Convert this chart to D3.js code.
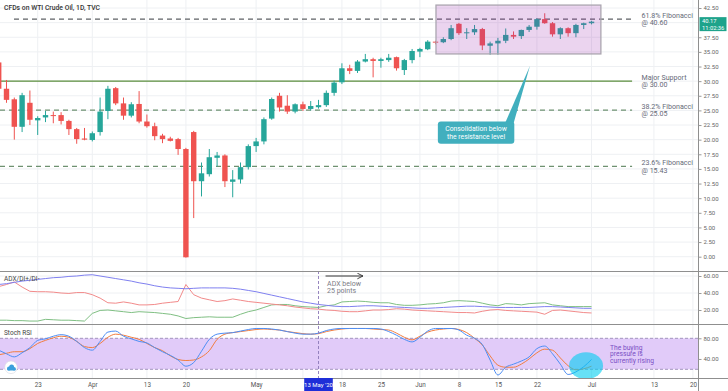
<!DOCTYPE html>
<html><head><meta charset="utf-8">
<script src="https://cdn.jsdelivr.net/npm/d3@7"></script>
<style>body{margin:0;background:#fff;} svg{display:block;font-family:Roboto,"Noto Sans",sans-serif;}</style>
</head><body><svg id="c" width="728" height="391"></svg>
<script>
// ---------------- DATA ----------------
const dates = ["Mar 16","Mar 17","Mar 18","Mar 19","Mar 20","Mar 23","Mar 24","Mar 25","Mar 26","Mar 27",
 "Mar 30","Mar 31","Apr 1","Apr 2","Apr 3","Apr 6","Apr 7","Apr 8","Apr 9",
 "Apr 13","Apr 14","Apr 15","Apr 16","Apr 17","Apr 20","Apr 21","Apr 22","Apr 23","Apr 24",
 "Apr 27","Apr 28","Apr 29","Apr 30","May 1","May 4","May 5","May 6","May 7","May 8",
 "May 11","May 12","May 13","May 14","May 15","May 18","May 19","May 20","May 21","May 22",
 "May 25","May 26","May 27","May 28","May 29","Jun 1","Jun 2","Jun 3","Jun 4","Jun 5",
 "Jun 8","Jun 9","Jun 10","Jun 11","Jun 12","Jun 15","Jun 16","Jun 17","Jun 18","Jun 19",
 "Jun 22","Jun 23","Jun 24","Jun 25","Jun 26","Jun 29","Jun 30","Jul 1"];
const open = [33.2,28.7,26.9,22.2,26.3, 23.3,23.8,24.2,24.2,23.2, 21.8,20.2,19.95,21.3,24.9, 28.8,26.2,24.1,26.1,
 23.1,22.3,20.7,20.2,20.1, 18.4,21.3,12.9,14.1,16.9, 17.3,12.8,13.2,15.3,18.9, 19.7,23.6,27.5,25.8,24.8,
 26.05,25.25,25.55,25.9,28.0, 29.8,32.2,31.75,33.35,33.75, 33.45,33.6,34.1,31.9,33.6, 35.05,35.45,36.75,36.65,37.2,
 39.8,38.2,38.35,38.9,36.05, 36.45,36.9,37.9,37.7,38.75, 39.3,40.6,39.9,38.0,39.05, 38.2,39.6,39.9];
const high = [33.6,30.2,27.2,28.0,28.4, 24.0,24.9,24.8,24.7,23.4, 22.0,22.0,21.4,27.2,29.2, 29.0,27.2,26.4,28.3,
 24.3,22.9,21.0,20.5,20.3, 18.6,21.5,16.1,18.4,17.9, 17.5,14.8,16.1,19.2,20.3, 23.8,27.2,28.0,27.6,26.2,
 26.5,26.6,26.8,28.4,30.1, 33.05,32.8,33.6,34.65,34.0, 34.0,34.65,34.2,33.8,35.5, 35.7,37.0,36.9,37.5,39.6,
 39.95,39.05,39.6,39.1,36.75, 37.4,39.0,38.5,38.8,39.6, 40.75,41.6,40.1,39.2,39.2, 39.8,40.0,40.3];
const low = [28.3,26.3,20.0,21.3,22.5, 20.8,23.0,22.8,22.6,20.8, 19.3,19.9,19.7,20.7,23.5, 25.9,23.4,23.8,22.8,
 22.05,19.9,19.4,19.7,17.4, -0.15,6.6,10.3,13.7,15.4, 11.9,10.15,12.5,14.9,17.9, 19.2,23.4,24.8,24.4,24.5,
 24.9,25.0,25.3,25.6,27.5, 29.5,31.2,31.4,33.2,30.65, 32.3,33.3,31.8,31.05,33.05, 34.1,35.3,36.3,36.5,37.0,
 37.9,37.2,37.9,35.3,34.5, 34.5,36.5,37.2,37.2,38.4, 38.8,39.8,37.6,37.2,37.6, 37.5,38.9,39.7];
const close = [28.7,26.8,22.2,27.6,23.4, 23.7,24.2,24.1,23.2,21.8, 20.1,20.0,21.1,24.8,28.7, 26.2,24.1,26.05,23.1,
 22.3,20.6,20.1,19.8,18.4, -0.1,12.9,14.25,17.0,17.3, 12.9,13.2,15.3,18.9,19.7, 23.5,26.95,25.5,24.8,26.05,
 25.25,25.75,25.9,28.0,29.75, 32.2,31.75,33.35,33.75,33.45, 33.75,34.0,32.2,33.6,35.15, 35.5,36.75,36.6,37.2,39.05,
 38.2,38.35,38.9,36.1,36.45, 36.9,37.9,37.6,38.75,39.3, 40.6,39.9,38.0,39.05,38.2, 39.6,39.9,40.17];

const adx = [50,51,52.5,54,55, 56,57,58,58.5,59.5, 60,61,61.5,60,58.5, 57,55.5,54,52,
 50.5,48.5,47,46,45.5, 45,45.5,46,46,46, 46,45.5,44.5,43,41.5, 39.5,37.5,35.5,33.5,31.5,
 29.5,28,26.5,25.5,24.5, 24,24,24.5,25,25, 24.5,24,23.5,23,22.5, 22,22,22.5,23,23.5,
 24,24.5,24.5,24,23.5, 23,23,23,23,23, 23.5,24,24,23.5,23, 22.5,22,22];
const diPlus = [8,8,7.5,7.5,7, 7,9,8.5,8,8, 7.5,7,16,19.5,20, 19,18,17,18,
 17.5,17,16,15,13, 10,11,11.5,12,11.5, 11.5,11.5,15,18,20, 23,26,26.5,26.5,25,
 24,23.5,23,25,26, 29.5,30,30.5,30,29, 28.5,28.5,26.5,25.5,25.5, 26,27,27.5,28.5,30.5,
 31,30.5,30,28,26, 25,27.5,27,26,27.5, 28,28.5,26,25,24, 24,24,24];
const diMinus = [47.5,50,53,47,42, 41.5,41.5,41,40,39.5, 40.5,40.5,38,34,28.5, 28,29.5,28,26,
 26,26.5,28,29,30, 50,38,34,32,30, 31,33,31.5,30,29, 28,27,26,25,23.5,
 22.5,21.5,21,20,19.5, 18.5,18,18,19,20, 20,20.5,21.5,21,20, 19.5,19,18.5,18,17.5,
 17,17,16.5,18.5,20, 20.5,19.5,19,18.5,18, 17.5,15,19.5,20,19, 18,17,16.5];
const stochK = [57,50,44,52,62, 76,79,84,87,84, 74,62,57,74,92, 94,84,79,74,
 71,62,54,47,38, 26,33,55,78,88, 90,91,94,97,99, 99,98,96,93,90,
 88,88,90,95,98, 99,99,99,99,99, 98,93,86,78,73, 82,94,99,99,99,
 96,86,80,68,38, 9,24,30,36,44, 60,65,50,30,10, 15,25,39];
const stochD = [48,51,54,54,60, 70,76,81,84,82, 74,64,62,70,82, 88,86,82,78,
 70,62,56,46,39, 37,38,44,56,78, 88,91,93,95,97, 98,97,96,93,91,
 89,88,89,93,96, 98,99,99,99,98, 97,96,90,82,77, 84,92,96,98,99,
 97,91,80,67,46, 28,24,24,30,40, 52,59,57,42,27, 19,21,26];

const priceTicks = [0,2.5,5,7.5,10,12.5,15,17.5,20,22.5,25,27.5,30,32.5,35,37.5,40,42.5];
const priceLabelTicks = [0,2.5,5,7.5,10,12.5,15,17.5,20,22.5,25,27.5,30,32.5,35,37.5,42.5];
const adxTicks = [20,40,60];
const stochTicks = [40,80];
const dateTickLabels = ["23","Apr","13","20","May","18","25","Jun","8","15","22","Jul","13","20"];
const dateTickIndex  = [5,12,19,24,33,44,49,54,59,64,69,76,84,89];
const gridDateIndex  = [0,5,12,19,24,33,39,44,49,54,59,64,69,76,84,89];

const levelNames  = ["61.8% Fibonacci","Major Support","38.2% Fibonacci","23.6% Fibonacci"];
const levelValues = [40.60,30.00,25.05,15.43];

// ---------------- LAYOUT ----------------
const W=728,H=391, plotR=698;
const mainTop=0, mainBot=271, adxTop=271, adxBot=324, stTop=324, stBot=378;
const svg=d3.select("#c");
svg.append("rect").attr("width",W).attr("height",H).attr("fill","#fff");

const x=d3.scaleLinear().domain([0.167,89.65]).range([0,plotR]);
const y=d3.scaleLinear().domain([0,42.5]).range([256.7,8]);
const yA=d3.scaleLinear().domain([20,60]).range([310,276]);
const yS=d3.scaleLinear().domain([20,80]).range([369.3,338.3]);
const idx=d3.range(dates.length);

const defs=svg.append("defs");
[["cm",mainTop,mainBot],["ca",adxTop,adxBot],["cs",stTop,stBot]].forEach(([id,t,b])=>{
  defs.append("clipPath").attr("id",id).append("rect").attr("x",0).attr("y",t).attr("width",plotR).attr("height",b-t);
});
defs.append("marker").attr("id","arr").attr("viewBox","0 0 10 10").attr("refX",9).attr("refY",5)
  .attr("markerWidth",7).attr("markerHeight",7).attr("orient","auto")
  .append("path").attr("d","M1,1 L9,5 L1,9").attr("fill","none").attr("stroke","#333").attr("stroke-width",1.3);

// grids
const grid=svg.append("g").attr("stroke","#eef0f3").attr("stroke-width",1);
priceTicks.forEach(p=>grid.append("line").attr("x1",0).attr("x2",plotR).attr("y1",y(p)).attr("y2",y(p)));
adxTicks.forEach(v=>grid.append("line").attr("x1",0).attr("x2",plotR).attr("y1",yA(v)).attr("y2",yA(v)));
gridDateIndex.forEach(i=>grid.append("line").attr("x1",x(i)).attr("x2",x(i)).attr("y1",0).attr("y2",stBot));

// ---------------- MAIN PANEL ----------------
const gm=svg.append("g").attr("clip-path","url(#cm)");
const lvlStart=[1.96,0.167,0.167,0.167], lvlEnd=81.2;
const lvlColor=["#5f6266","#5a8c3c","#6e9170","#6e9170"];
const lvlDash=["5,4",null,"5,4","5,4"];
levelValues.forEach((v,k)=>{
  gm.append("line").attr("x1",x(lvlStart[k])).attr("x2",x(lvlEnd)).attr("y1",y(v)).attr("y2",y(v))
    .attr("stroke",lvlColor[k]).attr("stroke-width",1.2).attr("stroke-dasharray",lvlDash[k]);
});
const up="#26a69a", dn="#ef5350", bw=5.4;
const cg=gm.append("g");
idx.forEach(i=>{
  const c= close[i]>=open[i]?up:dn;
  cg.append("line").attr("x1",x(i)).attr("x2",x(i)).attr("y1",y(high[i])).attr("y2",y(low[i])).attr("stroke",c).attr("stroke-width",1);
  const t=y(Math.max(open[i],close[i])), b=y(Math.min(open[i],close[i]));
  cg.append("rect").attr("x",x(i)-bw/2).attr("y",t).attr("width",bw).attr("height",Math.max(1,b-t)).attr("fill",c);
});
const rectI=[56.06,77.2], rectP=[43.0,34.65];
gm.append("rect").attr("x",x(rectI[0])).attr("y",y(rectP[0])).attr("width",x(rectI[1])-x(rectI[0])).attr("height",y(rectP[1])-y(rectP[0]))
  .attr("fill","rgba(156,39,176,0.2)").attr("stroke","#aba6b0").attr("stroke-width",1.3);
const calloutColor="#41afbe";
const boxI=[56.3,66.1], boxP=[23.1,19.3];
gm.append("path").attr("d",`M${x(64.9)},${y(boxP[0])+2} L${x(68.1)},${y(32.6)} L${x(66.0)},${y(boxP[0])+2} Z`).attr("fill",calloutColor);
gm.append("rect").attr("x",x(boxI[0])).attr("y",y(boxP[0])).attr("width",x(boxI[1])-x(boxI[0])).attr("height",y(boxP[1])-y(boxP[0]))
  .attr("rx",3).attr("fill",calloutColor);
const bcx=(x(boxI[0])+x(boxI[1]))/2;
["Consolidation below","the resistance level"].forEach((t,k)=>{
  svg.append("text").attr("x",bcx).attr("y",y(boxP[0])+9.2+k*7.8).attr("text-anchor","middle").attr("fill","#fff")
    .attr("font-size",6.8).text(t);
});
levelValues.forEach((v,k)=>{
  const yy=y(v);
  svg.append("text").attr("x",641.5).attr("y",yy-1.4).attr("fill","#666a78").attr("font-size",7.1).text(levelNames[k]);
  svg.append("text").attr("x",641.5).attr("y",yy+6.3).attr("fill","#666a78").attr("font-size",7.1).text("@ "+v.toFixed(2));
});
svg.append("text").attr("x",4).attr("y",10).attr("fill","#333").attr("font-size",6.8).attr("font-weight",500).text("CFDs on WTI Crude Oil, 1D, TVC");

// ---------------- ADX PANEL ----------------
const ga=svg.append("g").attr("clip-path","url(#ca)");
const la=d=>d3.line().x((v,i)=>x(i)).y(v=>yA(v))(d);
ga.append("path").attr("d",la(diPlus)).attr("fill","none").attr("stroke","#7fbf83").attr("stroke-width",1);
ga.append("path").attr("d",la(diMinus)).attr("fill","none").attr("stroke","#f28a8a").attr("stroke-width",1);
ga.append("path").attr("d",la(adx)).attr("fill","none").attr("stroke","#7f80f0").attr("stroke-width",1);
svg.append("text").attr("x",4).attr("y",281).attr("fill","#444").attr("font-size",6.5).text("ADX/DI+/DI-");

// ---------------- STOCH RSI PANEL ----------------
const gs=svg.append("g").attr("clip-path","url(#cs)");
gs.append("rect").attr("x",0).attr("width",plotR).attr("y",yS(80)).attr("height",yS(20)-yS(80)).attr("fill","#e1cbf9");
[20,80].forEach(v=>gs.append("line").attr("x1",0).attr("x2",plotR).attr("y1",yS(v)).attr("y2",yS(v))
  .attr("stroke","#9a8cb5").attr("stroke-width",0.9).attr("stroke-dasharray","3,2"));
const ls=d=>d3.line().curve(d3.curveMonotoneX).x((v,i)=>x(i)).y(v=>yS(v))(d);
gs.append("path").attr("d",ls(stochD)).attr("fill","none").attr("stroke","#f27d3f").attr("stroke-width",1);
gs.append("path").attr("d",ls(stochK)).attr("fill","none").attr("stroke","#4d8ef5").attr("stroke-width",1);
gs.append("ellipse").attr("cx",x(75.3)).attr("cy",yS(27)).attr("rx",17).attr("ry",13.5).attr("fill","rgba(0,205,240,0.6)");
["The buying","pressure is","currently rising"].forEach((t,k)=>{
  svg.append("text").attr("x",610).attr("y",349.5+k*6.6).attr("fill","#7a4fc4").attr("font-size",6.7).text(t);
});
svg.append("text").attr("x",4).attr("y",335).attr("fill","#444").attr("font-size",6.5).text("Stoch RSI");
svg.append("circle").attr("cx",11).attr("cy",367.3).attr("r",6.3).attr("fill","#fff").attr("stroke","#d8d8e0").attr("stroke-width",0.6);
const lg=svg.append("g").attr("fill","#3a9fdc");
lg.append("circle").attr("cx",9).attr("cy",368.6).attr("r",2);
lg.append("circle").attr("cx",11.6).attr("cy",367).attr("r",2.5);
lg.append("circle").attr("cx",14).attr("cy",368.8).attr("r",1.8);
lg.append("rect").attr("x",7.2).attr("y",368.6).attr("width",8.6).attr("height",2).attr("rx",1);

// ---------------- ANNOTATIONS ----------------
svg.append("line").attr("x1",x(41)).attr("x2",x(41)).attr("y1",adxTop).attr("y2",stBot)
  .attr("stroke","#8b78b8").attr("stroke-width",0.9).attr("stroke-dasharray","3,2");
svg.append("line").attr("x1",x(41.9)).attr("x2",x(46.7)).attr("y1",yA(60)).attr("y2",yA(60))
  .attr("stroke","#333").attr("stroke-width",1).attr("marker-end","url(#arr)");
svg.append("text").attr("x",x(42.1)).attr("y",286.3).attr("fill","#7b7b85").attr("font-size",7).text("ADX below");
svg.append("text").attr("x",x(42.1)).attr("y",293.4).attr("fill","#7b7b85").attr("font-size",7).text("25 points");

// ---------------- AXES ----------------
const sep=svg.append("g").attr("stroke","#8f8f8f").attr("stroke-width",1);
[adxTop,adxBot,stBot].forEach(v=>sep.append("line").attr("x1",0).attr("x2",W).attr("y1",v+0.5).attr("y2",v+0.5));
sep.append("line").attr("x1",plotR+0.5).attr("x2",plotR+0.5).attr("y1",0).attr("y2",H);

const yAxis=svg.append("g").attr("transform",`translate(${plotR+0.5},0)`)
  .call(d3.axisRight(y).tickValues(priceLabelTicks).tickFormat(d3.format(".2f")).tickSize(3).tickPadding(2));
const yAxA=svg.append("g").attr("transform",`translate(${plotR+0.5},0)`)
  .call(d3.axisRight(yA).tickValues(adxTicks).tickFormat(d3.format(".2f")).tickSize(3).tickPadding(2));
const yAxS=svg.append("g").attr("transform",`translate(${plotR+0.5},0)`)
  .call(d3.axisRight(yS).tickValues(stochTicks).tickFormat(d3.format(".2f")).tickSize(3).tickPadding(2));
[yAxis,yAxA,yAxS].forEach(g=>{
  g.select(".domain").remove();
  g.selectAll("line").attr("stroke","#999");
  g.selectAll("text").attr("fill","#666").attr("font-size",6).attr("font-family","Roboto");
});
const xAxis=svg.append("g").attr("transform",`translate(0,${stBot})`)
  .call(d3.axisBottom(x).tickValues(dateTickIndex).tickFormat((d,k)=>dateTickLabels[k]).tickSize(0).tickPadding(5));
xAxis.select(".domain").remove();
xAxis.selectAll("text").attr("fill","#555").attr("font-size",6.3).attr("font-family","Roboto");

const dl=svg.append("g");
dl.append("rect").attr("x",x(41)-14.3).attr("y",stBot).attr("width",28.6).attr("height",13).attr("fill","#1f2fd8");
dl.append("text").attr("x",x(41)).attr("y",stBot+8.6).attr("text-anchor","middle").attr("fill","#fff").attr("font-size",6).text("13 May '20");

const lp=close[close.length-1];
const pl=svg.append("g");
pl.append("rect").attr("x",plotR+1.5).attr("y",y(lp)-4.5).attr("width",27).attr("height",14).attr("fill","#1ea38b");
pl.append("text").attr("x",plotR+4).attr("y",y(lp)+1.5).attr("fill","#fff").attr("font-size",5.8).text(lp.toFixed(2));
pl.append("text").attr("x",plotR+4).attr("y",y(lp)+8).attr("fill","#fff").attr("font-size",5.8).text("11:02:36");
</script></body></html>
